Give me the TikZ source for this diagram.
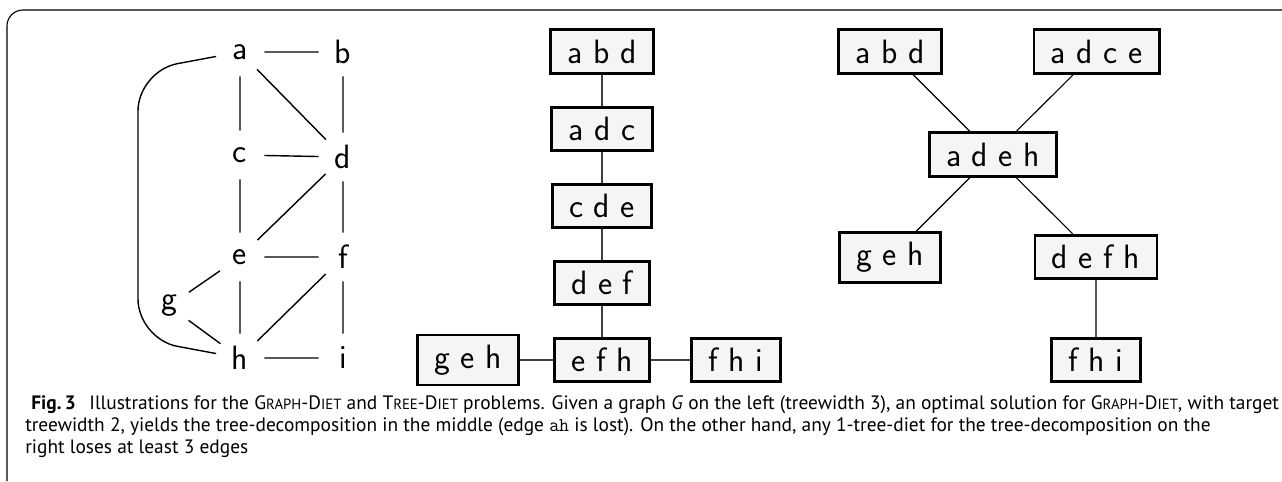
\documentclass[tikz,border=0pt]{standalone}
\usepackage{fontspec}
\newfontfamily\capfont{PT Sans}
\newcommand{\fsc}[2]{#1{\fontsize{10.5pt}{11pt}\selectfont #2}}

\begin{document}
\begin{tikzpicture}[x=0.025cm,y=-0.025cm,
  vtx/.style={circle,minimum size=1.2cm,inner sep=0pt,font=\sffamily\fontsize{24}{28}\selectfont},
  bag/.style={draw,fill=gray!8,line width=2pt,inner xsep=12pt,inner ysep=7pt,font=\sffamily\fontsize{24}{28}\selectfont},
  gedge/.style={line width=1pt},
  tedge/.style={line width=1.4pt,draw=black!75},
  tedge2/.style={line width=0.8pt},
  capline/.style={anchor=base west,inner sep=0pt,font=\capfont\fontsize{13.8}{16}\selectfont}]

\useasboundingbox (0,0) rectangle (1282,481);

% frame
\coordinate (fb) at (7,481);
\coordinate (fc) at (7,10);
\coordinate (fr) at (1282,10);
\draw[line width=0.8pt,rounded corners=0.4cm] (fb) -- (fc) -- (fr);

% graph G
\node[vtx] (a) at (240,52) {a};
\node[vtx] (b) at (343,52) {b};
\node[vtx] (c) at (240,155) {c};
\node[vtx] (d) at (343,157) {d};
\node[vtx] (e) at (240,257) {e};
\node[vtx] (f) at (343,257) {f};
\node[vtx] (g) at (169,306) {g};
\node[vtx] (h) at (240,358) {h};
\node[vtx] (i) at (343,358) {i};

\coordinate (ahtop) at (138,71);
\coordinate (ahbot) at (138,339);

\path [draw,gedge]
    (a) -- (b)
    (a) -- (c)
    (a) -- (d)
    (b) -- (d)
    (c) -- (d)
    (c) -- (e)
    (d) -- (e)
    (d) -- (f)
    (e) -- (f)
    (e) -- (g)
    (e) -- (h)
    (f) -- (h)
    (f) -- (i)
    (g) -- (h)
    (h) -- (i)
;
\draw [gedge,rounded corners=1cm] (a) -- (ahtop) -- (ahbot) -- (h);

% middle tree-decomposition
\node[bag] (m1) at (602,51.5) {a b d};
\node[bag] (m2) at (602,129) {a d c};
\node[bag] (m3) at (602,206) {c d e};
\node[bag] (m4) at (602,283) {d e f};
\node[bag] (m5) at (602,360) {e f h};
\node[bag] (m6) at (468,360) {g e h};
\node[bag] (m7) at (736,360) {f h i};

\path [draw,tedge]
    (m1) -- (m2)
    (m2) -- (m3)
    (m3) -- (m4)
    (m4) -- (m5)
    (m6) -- (m5)
    (m5) -- (m7)
;

% right tree-decomposition
\node[bag] (r1) at (890,51.5) {a b d};
\node[bag] (r2) at (1096.5,51.5) {a d c e};
\node[bag] (r3) at (993,154.5) {a d e h};
\node[bag] (r4) at (890,257.5) {g e h};
\node[bag] (r5) at (1096,257) {d e f h};
\node[bag] (r6) at (1096,360) {f h i};

\path [draw,tedge2]
    (r1) -- (r3)
    (r2) -- (r3)
    (r3) -- (r4)
    (r3) -- (r5)
    (r5) -- (r6)
;

% caption
\node[capline] (cap1) at (31,409) {\textbf{Fig.\,3}\hspace{0.7em}Illustrations for the \fsc{G}{RAPH}-\fsc{D}{IET} and \fsc{T}{REE}-\fsc{D}{IET} problems. Given a graph \textit{G} on the left (treewidth 3), an optimal solution for \fsc{G}{RAPH}-\fsc{D}{IET}, with target};
\node[capline] (cap2) at (25,431) {treewidth 2, yields the tree-decomposition in the middle (edge \texttt{ah} is lost). On the other hand, any 1-tree-diet for the tree-decomposition on the};
\node[capline] (cap3) at (25,453) {right loses at least 3 edges};

\end{tikzpicture}
\end{document}
